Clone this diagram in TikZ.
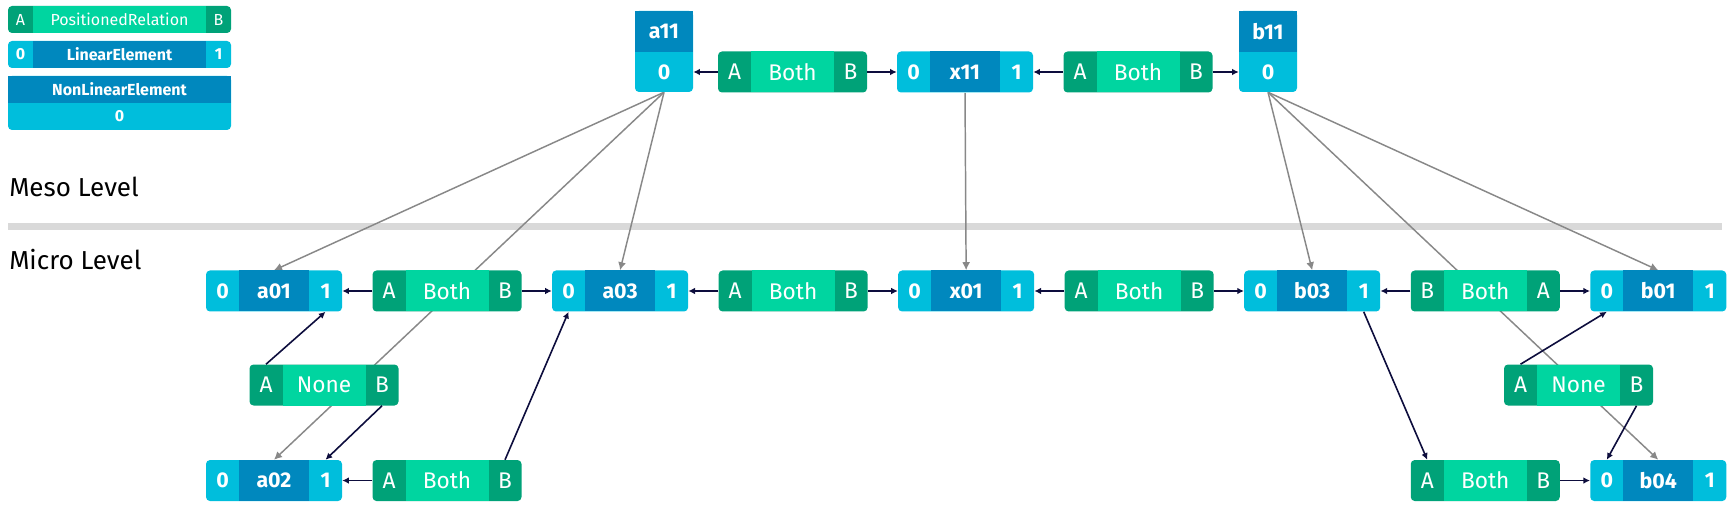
\documentclass[tikz,border=0pt]{standalone}
\usepackage{fontspec}
\setmainfont{Fira Sans}
\usetikzlibrary{positioning,arrows.meta}

\definecolor{relDark}{HTML}{00A278}
\definecolor{relLight}{HTML}{00D5A0}
\definecolor{elemLight}{HTML}{00BEDC}
\definecolor{elemDark}{HTML}{0088BE}
\definecolor{linkDark}{HTML}{0D0D3D}
\definecolor{linkGray}{HTML}{888888}
\definecolor{barGray}{HTML}{D9D9D9}

\pgfdeclarelayer{background}
\pgfsetlayers{background,main}

\newcommand{\boxfont}{\fontsize{16pt}{18pt}\selectfont}
\newcommand{\relfont}{\fontsize{17pt}{19pt}\selectfont}
\newcommand{\legfont}{\fontsize{12pt}{14pt}\selectfont}
\newcommand{\levelfont}{\fontsize{19.5pt}{22pt}\selectfont}

% linear element: name, placement, label
\newcommand{\linnode}[3]{%
  \node[elembox, #2] (#1) {};
  \node[elemmid] at (#1) {#3};
  \node[elemport, anchor=west] (#1-0) at (#1.west) {0};
  \node[elemport, anchor=east] (#1-1) at (#1.east) {1};}

% non linear element: name, placement, label
\newcommand{\nlinnode}[3]{%
  \node[nlbox, #2] (#1) {};
  \node[nltop, anchor=north] (#1-t) at (#1.north) {#3};
  \node[nlport, anchor=south] (#1-0) at (#1.south) {0};}

% positioned relation: name, placement, left port, label, right port
\newcommand{\relnode}[5]{%
  \node[relbox, #2] (#1) {};
  \node[relmid] at (#1) {#4};
  \node[relport, anchor=west] (#1-l) at (#1.west) {#3};
  \node[relport, anchor=east] (#1-r) at (#1.east) {#5};}

\begin{document}
\begin{tikzpicture}[x=0.75pt, y=-0.75pt, node distance=22.5pt,
  elembox/.style={fill=elemLight, rounded corners=3pt, inner sep=0pt, minimum width=102pt, minimum height=30.75pt},
  elemmid/.style={fill=elemDark, inner sep=0pt, minimum width=52.5pt, minimum height=30.75pt, text=white, font=\boxfont\bfseries},
  elemport/.style={inner sep=0pt, minimum width=24.75pt, minimum height=30.75pt, text=white, font=\boxfont\bfseries},
  nlbox/.style={fill=elemLight, rounded corners=3pt, inner sep=0pt, minimum width=43.5pt, minimum height=60.75pt},
  nltop/.style={fill=elemDark, inner sep=0pt, minimum width=43.5pt, minimum height=30.75pt, text=white, font=\boxfont\bfseries},
  nlport/.style={inner sep=0pt, minimum width=43.5pt, minimum height=30pt, text=white, font=\boxfont\bfseries},
  relbox/.style={fill=relDark, rounded corners=3pt, inner sep=0pt, minimum width=111.75pt, minimum height=30.75pt},
  relmid/.style={fill=relLight, inner sep=0pt, minimum width=62.25pt, minimum height=30.75pt, text=white, font=\relfont},
  relport/.style={inner sep=0pt, minimum width=24.75pt, minimum height=30.75pt, text=white, font=\relfont},
  level/.style={inner sep=0pt, font=\levelfont, anchor=base west},
  darklink/.style={draw=linkDark, line width=1.2pt, -{Latex[length=5pt,width=5pt]}},
  graylink/.style={draw=linkGray, line width=1.1pt, -{Latex[length=6pt,width=6pt]}}]
\useasboundingbox (0,0) rectangle (1730,509);

% legend
\begin{scope}[elembox/.append style={minimum width=167.25pt, minimum height=20.25pt},
  elemmid/.append style={minimum width=129.75pt, minimum height=20.25pt, font=\legfont\bfseries},
  elemport/.append style={minimum width=18.75pt, minimum height=20.25pt, font=\legfont\bfseries},
  relbox/.append style={minimum width=167.25pt, minimum height=20.25pt},
  relmid/.append style={minimum width=129.75pt, minimum height=20.25pt, font=\legfont},
  relport/.append style={minimum width=18.75pt, minimum height=20.25pt, font=\legfont},
  nlbox/.append style={minimum width=167.25pt, minimum height=40.5pt},
  nltop/.append style={minimum width=167.25pt, minimum height=20.25pt, font=\legfont\bfseries},
  nlport/.append style={minimum width=167.25pt, minimum height=20.25pt, font=\legfont\bfseries}]
\relnode{leg-rel}{at={(119.5,19.5)}}{A}{PositionedRelation}{B}
\linnode{leg-lin}{at={(119.5,54.5)}}{LinearElement}
\nlinnode{leg-nlin}{at={(119.5,103)}}{NonLinearElement}
\end{scope}

\node[level] (meso) at (9,197) {Meso Level};
\node[level] (micro) at (9,270) {Micro Level};

% meso level
\nlinnode{a11}{at={(664,51.5)}}{a11}
\relnode{t1}{at={(792.5,72)}}{A}{Both}{B}
\linnode{x11}{at={(965,72)}}{x11}
\relnode{t2}{at={(1138,72)}}{A}{Both}{B}
\nlinnode{b11}{at={(1268,51.5)}}{b11}

% micro level
\linnode{a01}{at={(274,291)}}{a01}
\relnode{r1}{right=of a01}{A}{Both}{B}
\linnode{a03}{right=of r1}{a03}
\relnode{r2}{right=of a03}{A}{Both}{B}
\linnode{x01}{right=of r2}{x01}
\relnode{r3}{right=of x01}{A}{Both}{B}
\linnode{b03}{right=of r3}{b03}
\relnode{r4}{right=of b03}{B}{Both}{A}
\linnode{b01}{right=of r4}{b01}

\relnode{n1}{at={(324,385)}}{A}{None}{B}
\relnode{n2}{at={(1578.5,385)}}{A}{None}{B}

\linnode{a02}{below=111pt of a01}{a02}
\relnode{s1}{right=of a02}{A}{Both}{B}
\linnode{b04}{below=111pt of b01}{b04}
\relnode{s2}{left=of b04}{A}{Both}{B}

\begin{pgfonlayer}{background}
\fill[barGray] (8,223) rectangle (1722,230);
\draw[graylink] (a11.south) -- (a01.north);
\draw[graylink] (a11.south) -- (a02.north);
\draw[graylink] (a11.south) -- (a03.north);
\draw[graylink] (x11.south) -- (x01.north);
\draw[graylink] (b11.south) -- (b03.north);
\draw[graylink] (b11.south) -- (b04.north);
\draw[graylink] (b11.south) -- (b01.north);
\end{pgfonlayer}

\draw[darklink] (t1) -- (a11-0);
\draw[darklink] (t1) -- (x11);
\draw[darklink] (t2) -- (x11);
\draw[darklink] (t2) -- (b11-0);

\draw[darklink] (r1) -- (a01);
\draw[darklink] (r1) -- (a03);
\draw[darklink] (r2) -- (a03);
\draw[darklink] (r2) -- (x01);
\draw[darklink] (r3) -- (x01);
\draw[darklink] (r3) -- (b03);
\draw[darklink] (r4) -- (b03);
\draw[darklink] (r4) -- (b01);

\draw[darklink] (n1-l.north) -- (a01-1.south);
\draw[darklink] (n1-r.south) -- (a02-1.north);
\draw[darklink] (s1) -- (a02);
\draw[darklink] (s1-r.north) -- (a03-0.south);

\draw[darklink] (b03-1.south) -- (s2-l.north);
\draw[darklink] (s2) -- (b04);
\draw[darklink] (n2-l.north) -- (b01-0.south);
\draw[darklink] (n2-r.south) -- (b04-0.north);
\end{tikzpicture}
\end{document}
